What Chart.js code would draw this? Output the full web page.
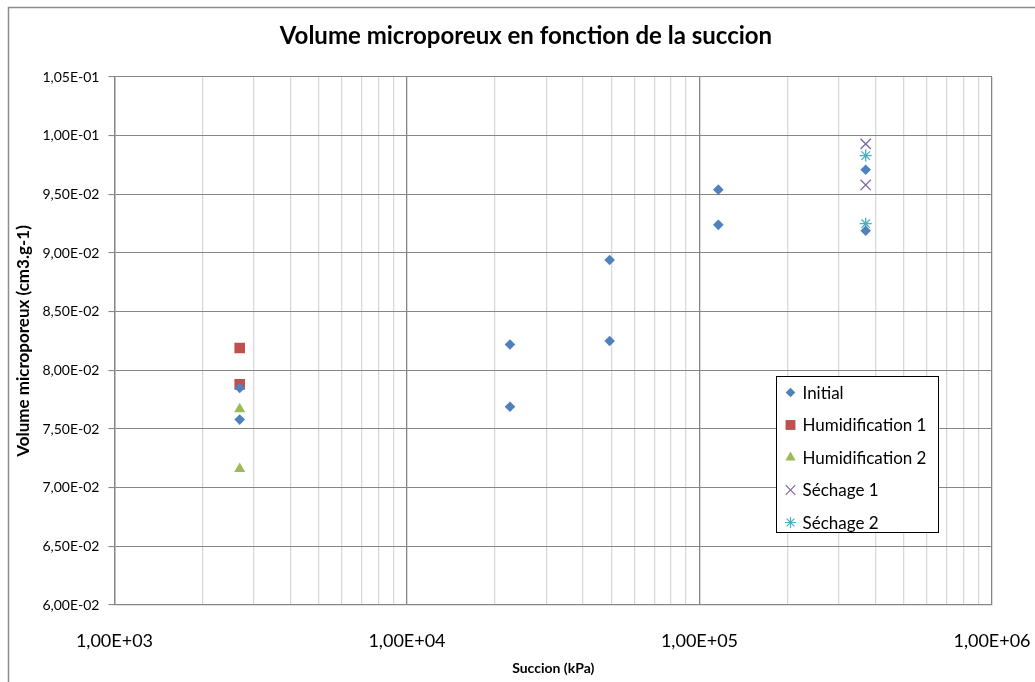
<!DOCTYPE html>
<html>
<head>
<meta charset="utf-8">
<script src="https://cdn.jsdelivr.net/npm/chart.js@4.4.1/dist/chart.umd.min.js"></script>
<style>
  html, body { margin: 0; padding: 0; background: #fff; }
  #wrap { position: relative; width: 1035px; height: 682px; }
</style>
</head>
<body>
<div id="wrap"><canvas id="chart" width="1035" height="682"></canvas></div>
<script>
const chartTitle = 'Volume microporeux en fonction de la succion';
const seriesNames = ['Initial', 'Humidification 1', 'Humidification 2', 'Séchage 1', 'Séchage 2'];

const initialX = [2680, 2680, 22500, 22500, 49300, 49300, 116000, 116000, 370000, 370000];
const initialY = [0.0785, 0.0758, 0.0822, 0.0769, 0.0894, 0.0825, 0.0954, 0.0924, 0.0971, 0.0919];
const humid1X = [2680, 2680];
const humid1Y = [0.0819, 0.0788];
const humid2X = [2680, 2680];
const humid2Y = [0.0767, 0.0716];
const sechage1X = [370000, 370000];
const sechage1Y = [0.0993, 0.0958];
const sechage2X = [370000, 370000];
const sechage2Y = [0.0983, 0.0925];

const xTickValues = [1e3, 1e4, 1e5, 1e6];

const colors = ['#4F81BD', '#C0504D', '#9BBB59', '#8064A2', '#4BACC6'];
const styles = ['rectRot', 'rect', 'triangle', 'crossRot', 'star'];
const radii = [5.3, 7.5, 6.4, 7.3, 6];

const FONT = "Lato, 'Liberation Sans', sans-serif";

function toPoints(xs, ys) {
  return xs.map((x, i) => ({ x: x, y: ys[i] }));
}

function sci(v) {
  if (v === 0) return '0,00E+00';
  let exp = Math.floor(Math.log10(Math.abs(v)) + 1e-9);
  let mant = v / Math.pow(10, exp);
  if (Math.round(mant * 100) >= 1000) { mant /= 10; exp += 1; }
  const sign = exp < 0 ? '-' : '+';
  const e = String(Math.abs(exp)).padStart(2, '0');
  return mant.toFixed(2).replace('.', ',') + 'E' + sign + e;
}

function isDecade(v) {
  const l = Math.log10(v);
  return Math.abs(l - Math.round(l)) < 1e-6;
}

const datasets = [
  [initialX, initialY], [humid1X, humid1Y], [humid2X, humid2Y],
  [sechage1X, sechage1Y], [sechage2X, sechage2Y]
].map((d, i) => ({
  label: seriesNames[i],
  data: toPoints(d[0], d[1]),
  pointStyle: styles[i],
  pointRadius: radii[i],
  pointHoverRadius: radii[i],
  backgroundColor: colors[i],
  borderColor: colors[i],
  borderWidth: (i >= 3) ? 1.3 : 0,
  showLine: false
}));

// outer frame, title (off-centre like the original) and legend box inside the plot
const framePlugin = {
  id: 'frame',
  beforeDraw(chart) {
    const ctx = chart.ctx;
    ctx.save();
    ctx.fillStyle = '#fff';
    ctx.fillRect(0, 0, chart.width, chart.height);
    ctx.strokeStyle = '#8c8c8c';
    ctx.lineWidth = 1.5;
    ctx.strokeRect(8.5, 7.5, chart.width, chart.height);
    ctx.restore();
  },
  afterDraw(chart) {
    const ctx = chart.ctx;
    ctx.save();
    ctx.font = 'bold 24px ' + FONT;
    ctx.fillStyle = '#000';
    ctx.textAlign = 'center';
    ctx.textBaseline = 'middle';
    ctx.fillText(chartTitle, 526, 36);

    const x0 = 776.5, y0 = 376.5, w = 162, h = 156;
    ctx.textAlign = 'left';
    ctx.fillStyle = '#fff';
    ctx.fillRect(x0, y0, w, h);
    ctx.strokeStyle = '#000';
    ctx.lineWidth = 1;
    ctx.strokeRect(x0, y0, w, h);
    ctx.font = '17px ' + FONT;
    seriesNames.forEach((name, i) => {
      const cy = y0 + 16 + i * 32.5;
      ctx.fillStyle = colors[i];
      ctx.strokeStyle = colors[i];
      ctx.lineWidth = 1.2;
      Chart.helpers.drawPoint(ctx, {
        pointStyle: styles[i],
        radius: radii[i] - 0.5,
        rotation: 0,
        borderWidth: (i >= 3) ? 1.2 : 0
      }, x0 + 14, cy);
      ctx.fillStyle = '#000';
      ctx.fillText(name, x0 + 26, cy + 1);
    });
    ctx.restore();
  }
};

new Chart(document.getElementById('chart'), {
  type: 'scatter',
  data: { datasets: datasets },
  options: {
    responsive: false,
    animation: false,
    layout: { padding: { left: 13, right: 43, top: 77, bottom: 5.6 } },
    plugins: {
      legend: { display: false },
      tooltip: { enabled: false },
      title: { display: false }
    },
    scales: {
      x: {
        type: 'logarithmic',
        min: 1e3,
        max: 1e6,
        afterBuildTicks(axis) {
          const t = [];
          for (let d = 0; d < xTickValues.length; d++) {
            const base = xTickValues[d];
            t.push({ value: base });
            if (d < xTickValues.length - 1) {
              for (let m = 2; m <= 9; m++) t.push({ value: base * m });
            }
          }
          axis.ticks = t;
        },
        ticks: {
          autoSkip: false,
          maxRotation: 0,
          color: '#000',
          padding: 4,
          font: { family: FONT, size: 18 },
          callback: (v) => isDecade(v) ? sci(v) : ''
        },
        grid: {
          color: (c) => (c.tick && isDecade(c.tick.value)) ? '#868686' : '#d9d9d9',
          lineWidth: 1.3,
          drawTicks: true,
          tickLength: 21,
          tickColor: 'rgba(0,0,0,0)'
        },
        border: { color: '#868686', width: 1.3 },
        title: {
          display: true,
          text: 'Succion (kPa)',
          color: '#000',
          font: { family: FONT, size: 14, weight: 'bold' },
          padding: { top: 4, bottom: 0 }
        }
      },
      y: {
        min: 0.06,
        max: 0.105,
        ticks: {
          stepSize: 0.005,
          color: '#000',
          padding: 9,
          font: { family: FONT, size: 14 },
          callback: (v) => sci(v)
        },
        grid: {
          color: '#868686',
          lineWidth: 1.1,
          tickLength: 6
        },
        border: { color: '#868686', width: 1.3 },
        title: {
          display: true,
          text: 'Volume microporeux (cm3.g-1)',
          color: '#000',
          font: { family: FONT, size: 17, weight: 'bold' },
          padding: { top: 0, bottom: 0 }
        }
      }
    }
  },
  plugins: [framePlugin]
});
</script>
</body>
</html>
